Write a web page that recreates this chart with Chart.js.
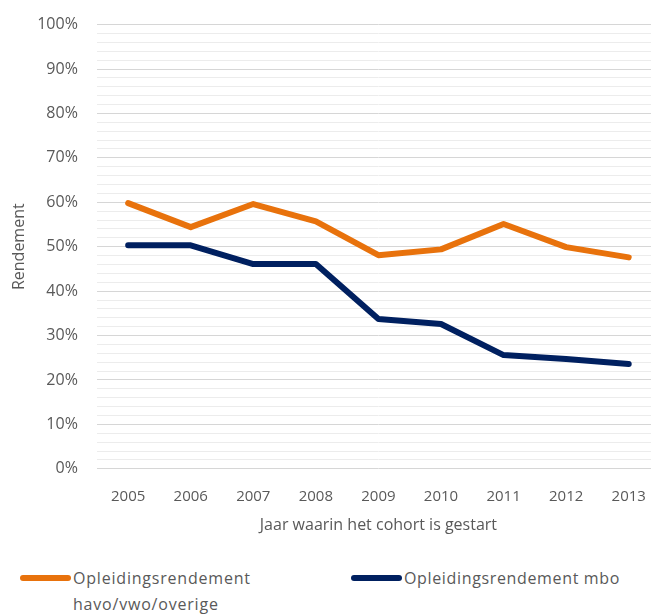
<!DOCTYPE html>
<html>
<head>
<meta charset="utf-8">
<script src="https://cdn.jsdelivr.net/npm/chart.js@4/dist/chart.umd.min.js"></script>
<style>
  html, body { margin: 0; padding: 0; background: #fff; overflow: hidden; }
  .wrap { position: relative; width: 651px; height: 614px; overflow: hidden; font-family: 'Open Sans', sans-serif; color: #595959; }
  .plot { position: absolute; left: 0; top: -4px; width: 660px; height: 551px; }
  .legend { position: absolute; left: 0; top: 565px; width: 651px; font-size: 16px; line-height: 26px; }
  .lg-item { position: absolute; top: 0; display: flex; align-items: flex-start; }
  .lg-swatch { width: 51px; height: 6px; border-radius: 3px; margin-top: 10px; margin-right: 2px; flex: none; }
</style>
</head>
<body>
<div class="wrap">
  <div class="plot"><canvas id="cRendement"></canvas></div>
  <div class="legend" id="legend"></div>
</div>
<script>
// cohort start years and percentages per track
const years = ['2005', '2006', '2007', '2008', '2009', '2010', '2011', '2012', '2013'];
const havoVwo = [59.8, 54.4, 59.6, 55.7, 48.1, 49.4, 55.1, 49.9, 47.6];
const mbo = [50.3, 50.3, 46.1, 46.1, 33.7, 32.6, 25.6, 24.7, 23.6];
const seriesNames = ['Opleidingsrendement havo/vwo/overige', 'Opleidingsrendement mbo'];
const legendLines = [['Opleidingsrendement', 'havo/vwo/overige'], ['Opleidingsrendement mbo']];

const orange = '#e8720c';
const navy = '#002060';
const txt = '#595959';

new Chart(document.getElementById('cRendement'), {
  type: 'line',
  data: {
    labels: years,
    datasets: [
      { label: seriesNames[0], data: havoVwo, borderColor: orange, borderWidth: 6, pointRadius: 0, tension: 0, borderCapStyle: 'round', borderJoinStyle: 'round' },
      { label: seriesNames[1], data: mbo, borderColor: navy, borderWidth: 6, pointRadius: 0, tension: 0, borderCapStyle: 'round', borderJoinStyle: 'round' }
    ]
  },
  options: {
    responsive: true, maintainAspectRatio: false, animation: false,
    layout: { padding: { top: 6, right: 0, left: 5, bottom: 8 } },
    plugins: { legend: { display: false }, tooltip: { enabled: false } },
    scales: {
      x: {
        offset: true,
        grid: { display: false },
        border: { display: false },
        ticks: { color: txt, font: { family: 'Open Sans', size: 15 }, padding: 11, maxRotation: 0 },
        title: { display: true, text: 'Jaar waarin het cohort is gestart', color: txt, font: { family: 'Open Sans', size: 16 }, padding: { top: -1 } }
      },
      y: {
        min: 0, max: 100,
        border: { display: false },
        ticks: {
          stepSize: 2, autoSkip: false, color: txt, font: { family: 'Open Sans', size: 16 }, padding: 19,
          callback: v => (v % 10 === 0 ? v + '%' : '')
        },
        grid: {
          drawTicks: false,
          color: c => (c.tick && c.tick.value % 10 === 0 ? '#d6d6d6' : '#ececec'),
          lineWidth: 1
        },
        title: { display: true, text: 'Rendement', color: txt, font: { family: 'Open Sans', size: 16 }, padding: { top: 5, bottom: -11 } }
      }
    }
  }
});

// legend below the plot
const colors = [orange, navy];
const lefts = [20, 351];
const spacing = ['0.8px', '0.65px'];
document.getElementById('legend').innerHTML = legendLines.map((lines, i) =>
  `<div class="lg-item" style="left:${lefts[i]}px;letter-spacing:${spacing[i]}"><div class="lg-swatch" style="background:${colors[i]}"></div><div>${lines.join('<br>')}</div></div>`
).join('');
</script>
</body>
</html>
